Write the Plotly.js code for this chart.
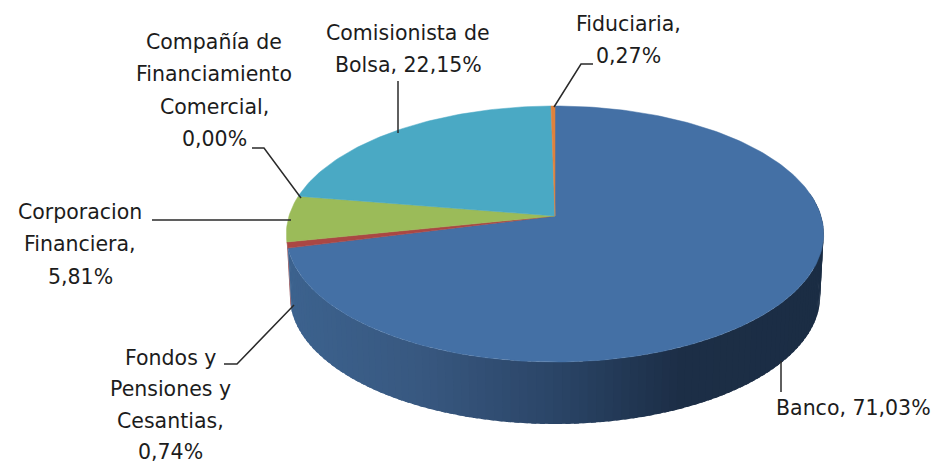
<!DOCTYPE html>
<html>
<head>
<meta charset="utf-8">
<script src="https://cdn.plot.ly/plotly-3.0.1.min.js"></script>
<style>html,body{margin:0;padding:0;background:#fff}#chart{width:934px;height:465px}</style>
</head>
<body>
<div id="chart"></div>
<script>
// Data, clockwise from 12 o'clock
const categories = ["Banco","Fondos y Pensiones y Cesantias","Corporacion Financiera","Compañía de Financiamiento Comercial","Comisionista de Bolsa","Fiduciaria"];
const values = [71.03,0.74,5.81,0.00,22.15,0.27];
const colors = ["#4470a5","#aa4744","#9bbb59","#7f60a0","#4aa9c4","#e0823c"];

// Label text, line by line, in category order
const labelLines = [
  ["Banco, 71,03%"],
  ["Fondos y","Pensiones y","Cesantias,","0,74%"],
  ["Corporacion","Financiera,","5,81%"],
  ["Compañía de","Financiamiento","Comercial,","0,00%"],
  ["Comisionista de","Bolsa, 22,15%"],
  ["Fiduciaria,","0,27%"]
];
const labelCentreX = [853,170,80,214,408,628];
const labelFirstY = [408,358,212,42,33,24];
const lineSteps = [32.3,31.4,32.3,32.3,32.3,32.3];

// Leader lines [x,y] in picture pixels
const leaders = [
  [[781,361],[781,392]],
  [[224,364],[237,364],[294,305]],
  [[152,220],[291,220]],
  [[252,148],[264,148],[301,198]],
  [[398,133],[398,81]],
  [[593,64],[581,64],[554,107]]
];

// Projection of the tilted disc
const apexX = 555, apexY = 216, radX = 266, radY = 125.5, persp = 0.1406, depth = 62, bottomScale = 0.987;
function rim(frac){
  const a = frac*2*Math.PI, u = Math.sin(a), v = Math.cos(a), w = 1+persp*v;
  return [apexX+radX*u/w, apexY-radY*v/w];
}
function lower(p){ return [apexX+(p[0]-apexX)*bottomScale, p[1]+depth]; }
function sideColour(x){
  const stops = [[288,[60,98,142]],[420,[56,88,128]],[560,[42,68,102]],[680,[28,46,70]],[825,[27,45,68]]];
  for(let i=1;i<stops.length;i++){
    if(x<=stops[i][0]){
      const f=Math.max(0,(x-stops[i-1][0])/(stops[i][0]-stops[i-1][0]));
      const c=stops[i-1][1].map((s,k)=>Math.round(s+(stops[i][1][k]-s)*f));
      return `rgb(${c[0]},${c[1]},${c[2]})`;
    }
  }
  return "rgb(27,45,68)";
}

const traces = [];
function poly(pts,col,lw){
  traces.push({type:"scatter",mode:"lines",x:pts.map(p=>p[0]),y:pts.map(p=>p[1]),fill:"toself",fillcolor:col,
    line:{color:col,width:lw},hoverinfo:"skip",showlegend:false});
}

const total = values.reduce((a,b)=>a+b,0);
const bounds = [0];
values.forEach(v=>bounds.push(bounds[bounds.length-1]+v/total));

// Outer wall: only the near half of the disc shows it
const fondosFrom = bounds[1], fondosTo = bounds[2];
{
  const n=4, pts=[], back=[];
  for(let i=0;i<=n;i++){const p=rim(fondosFrom+(fondosTo-fondosFrom)*i/n);pts.push(p);back.unshift(lower(p));}
  poly(pts.concat(back),"#8f4a52",0);
}
// Painted from the right end to the left end, every strip running under the next
const strips = 110, wallFrom = 0.22, overlap = 1.6;
for(let i=0;i<strips;i++){
  const f0 = wallFrom+(fondosFrom-wallFrom)*i/strips;
  const f1 = wallFrom+(fondosFrom-wallFrom)*Math.min(strips,i+1)/strips;
  const fe = wallFrom+(fondosFrom-wallFrom)*Math.min(strips,i+overlap)/strips;
  const p0=rim(f0), p1=rim(f1), pe=rim(fe);
  poly([p0,p1,pe,lower(pe),lower(p1),lower(p0)], sideColour((p0[0]+p1[0])/2),0);
}

// Top faces, built from the values
values.forEach((v,i)=>{
  if(v<=0) return;
  const n=Math.max(3,Math.ceil(v*3)), pts=[[apexX,apexY]];
  for(let k=0;k<=n;k++) pts.push(rim(bounds[i]+(bounds[i+1]-bounds[i])*k/n));
  pts.push([apexX,apexY]);
  poly(pts,colors[i],0.5);
});

const annotations = [];
labelLines.forEach((lines,i)=>lines.forEach((t,k)=>{
  annotations.push({x:labelCentreX[i],y:labelFirstY[i]+k*lineSteps[i],xref:"x",yref:"y",text:t,showarrow:false,
    xanchor:"center",yanchor:"middle",font:{family:"DejaVu Sans",size:20.5,color:"#1c1c1c"}});
}));

const shapes = leaders.map(l=>({type:"path",xref:"x",yref:"y",
  path:"M"+l.map(p=>p.join(",")).join("L"),line:{color:"#2a2a2a",width:1.5}}));

Plotly.newPlot("chart",traces,{
  width:934,height:465,margin:{l:0,r:0,t:0,b:0},paper_bgcolor:"#fff",plot_bgcolor:"#fff",showlegend:false,
  xaxis:{range:[0,934],visible:false,fixedrange:true},
  yaxis:{range:[465,0],visible:false,fixedrange:true},
  annotations,shapes
},{staticPlot:true,displayModeBar:false});
</script>
</body>
</html>
